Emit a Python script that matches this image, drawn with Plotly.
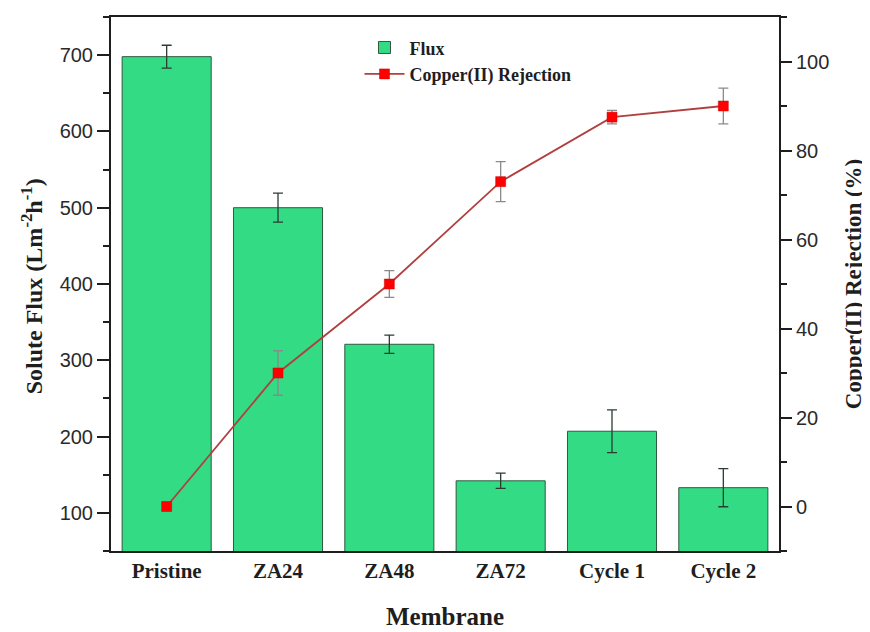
import plotly.graph_objects as go

membranes = ["Pristine", "ZA24", "ZA48", "ZA72", "Cycle 1", "Cycle 2"]
flux = [698, 500, 321, 142, 207, 133]
flux_err = [15, 19, 12, 10, 28, 25]
rejection = [0, 30, 50, 73, 87.5, 90]
rejection_err = [0.5, 5, 3, 4.5, 1.5, 4]

flux_ticks = [100, 200, 300, 400, 500, 600, 700]
rej_ticks = [0, 20, 40, 60, 80, 100]

serif = "Liberation Serif, Times New Roman, serif"
sans = "Liberation Sans, Arial, sans-serif"
ink = "#1e1e1e"

fig = go.Figure()
fig.add_trace(go.Bar(
    x=membranes, y=flux, name="<b>Flux</b>", width=0.8, legendgroup="a",
    marker=dict(color="#33DB85", line=dict(color="#2f5a40", width=1)),
    error_y=dict(type="data", array=flux_err, visible=True,
                 color="#2b3d30", thickness=1.3, width=5),
))
fig.add_trace(go.Scatter(
    x=membranes, y=rejection, name="<b>Copper(II) Rejection</b>", yaxis="y2",
    mode="lines+markers", legendgroup="b",
    line=dict(color="#b0403f", width=1.8),
    marker=dict(symbol="square", size=10, color="#ff0000",
                line=dict(color="#d00000", width=0.5)),
    error_y=dict(type="data", array=rejection_err, visible=True,
                 color="#8a8a8a", thickness=1.3, width=5),
))

fig.update_layout(
    width=862, height=624,
    margin=dict(l=103, r=91, t=7, b=81),
    plot_bgcolor="white", paper_bgcolor="white",
    showlegend=True,
    legend=dict(x=0.372, y=0.977, xanchor="left", yanchor="top",
                bgcolor="rgba(0,0,0,0)", traceorder="grouped",
                font=dict(family=serif, size=18, color=ink),
                itemwidth=40, tracegroupgap=0),
    xaxis=dict(
        range=[-0.5, 5.5], showline=True, linecolor=ink, linewidth=2,
        mirror=True, ticks="",
        tickfont=dict(family=serif, size=21, color=ink),
        tickprefix="<b>", ticksuffix="</b>",
    ),
    yaxis=dict(
        range=[50, 750], tickvals=flux_ticks,
        showline=True, linecolor=ink, linewidth=2, showgrid=False,
        ticks="outside", ticklen=12, tickwidth=1.5, tickcolor=ink,
        minor=dict(tickvals=[50, 150, 250, 350, 450, 550, 650, 750],
                   ticks="outside", ticklen=6, tickwidth=1.5, tickcolor=ink),
        tickfont=dict(family=sans, size=20, color="#2a2a2a"),
        zeroline=False,
    ),
    yaxis2=dict(
        overlaying="y", side="right", range=[-10, 110],
        tickvals=rej_ticks,
        showline=True, linecolor=ink, linewidth=2, showgrid=False,
        ticks="outside", ticklen=11, tickwidth=1.5, tickcolor=ink,
        minor=dict(tickvals=[-10, 10, 30, 50, 70, 90, 110],
                   ticks="outside", ticklen=6, tickwidth=1.5, tickcolor=ink),
        tickfont=dict(family=sans, size=20, color="#2a2a2a"),
        zeroline=False,
    ),
    annotations=[
        dict(text="<b>Solute Flux (Lm<sup>-2</sup>h<sup>-1</sup>)</b>",
             xref="paper", yref="paper", x=-0.118, y=0.496,
             xanchor="center", yanchor="middle", textangle=-90, showarrow=False,
             font=dict(family=serif, size=24, color=ink)),
        dict(text="<b>Copper(II) Rejection (%)</b>",
             xref="paper", yref="paper", x=1.111, y=0.5,
             xanchor="center", yanchor="middle", textangle=-90, showarrow=False,
             font=dict(family=serif, size=23, color=ink)),
        dict(text="<b>Membrane</b>",
             xref="paper", yref="paper", x=0.5, y=-0.122,
             xanchor="center", yanchor="middle", showarrow=False,
             font=dict(family=serif, size=25, color=ink)),
    ],
)

fig.write_html("out.html")
